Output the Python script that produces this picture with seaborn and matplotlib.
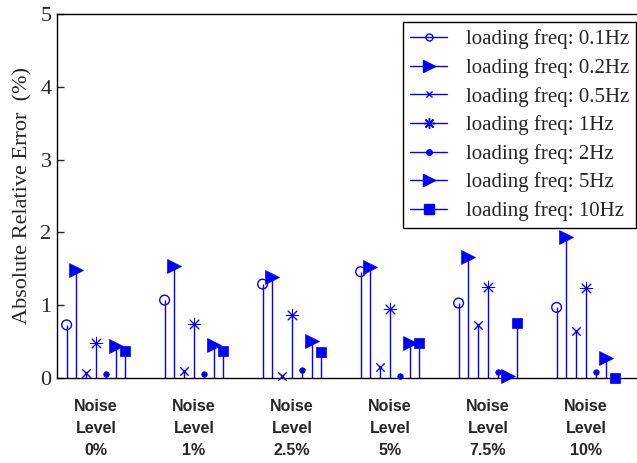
import numpy as np
import pandas as pd
import matplotlib
matplotlib.use("Agg")
import matplotlib.pyplot as plt
import seaborn as sns
from matplotlib.lines import Line2D
from matplotlib.legend_handler import HandlerLine2D

# ---------------- data ----------------
noise_labels = ["Noise\nLevel\n0%", "Noise\nLevel\n1%", "Noise\nLevel\n2.5%",
                "Noise\nLevel\n5%", "Noise\nLevel\n7.5%", "Noise\nLevel\n10%"]
series_names = ["loading freq: 0.1Hz", "loading freq: 0.2Hz", "loading freq: 0.5Hz",
                "loading freq: 1Hz", "loading freq: 2Hz", "loading freq: 5Hz",
                "loading freq: 10Hz"]
err_01 = [0.73, 1.07, 1.29, 1.46, 1.03, 0.97]
err_02 = [1.49, 1.54, 1.39, 1.53, 1.66, 1.93]
err_05 = [0.07, 0.10, 0.03, 0.15, 0.73, 0.65]
err_1 = [0.48, 0.74, 0.87, 0.95, 1.25, 1.23]
err_2 = [0.06, 0.06, 0.11, 0.03, 0.08, 0.08]
err_5 = [0.44, 0.45, 0.51, 0.48, 0.03, 0.28]
err_10 = [0.37, 0.37, 0.36, 0.48, 0.76, 0.00]
all_series = [err_01, err_02, err_05, err_1, err_2, err_5, err_10]

rows = []
for si, (name, vals) in enumerate(zip(series_names, all_series)):
    for gi, v in enumerate(vals):
        rows.append({"series": name, "sidx": si, "group": gi + 1,
                     "x": gi + 1 + (si - 3) * 0.1, "err": v})
df = pd.DataFrame(rows)

# ---------------- style ----------------
sns.set_style("ticks")
plt.rcParams["font.family"] = ["Liberation Serif", "DejaVu Serif"]
plt.rcParams["axes.linewidth"] = 1.0

BLUE = "#0000ff"
styles = [
    dict(marker="o", s=7 ** 2, fc="none", lw=1.0),
    dict(marker=">", s=10 ** 2, fc=BLUE, lw=0.5),
    dict(marker="x", s=6 ** 2, fc=BLUE, lw=1.0),
    dict(marker=(8, 2, 0), s=9 ** 2, fc=BLUE, lw=0.7),
    dict(marker="o", s=4 ** 2, fc=BLUE, lw=0.5),
    dict(marker=">", s=10 ** 2, fc=BLUE, lw=0.5),
    dict(marker="s", s=7.5 ** 2, fc=BLUE, lw=0.5),
]

fig = plt.figure(figsize=(6.37, 4.63), dpi=100)
W, H = 637.0, 463.0
ax_left, ax_right, ax_top, ax_bot = 57, 645, 14, 378
ax = fig.add_axes([ax_left / W, (H - ax_bot) / H, (ax_right - ax_left) / W, (ax_bot - ax_top) / H])

for si, name in enumerate(series_names):
    sub = df[df["series"] == name]
    st = styles[si]
    ax.vlines(sub["x"], 0, sub["err"], color=BLUE, lw=1.0, zorder=2)
    sns.scatterplot(data=sub, x="x", y="err", marker=st["marker"], s=st["s"],
                    facecolor=st["fc"], edgecolor=BLUE, linewidth=st["lw"],
                    color=BLUE, ax=ax, zorder=3, legend=False, clip_on=False)

ax.set_xlim(1 - (96 - ax_left) / 98.0, 1 + (ax_right - 96) / 98.0)
ax.set_ylim(0, 5)
ax.set_yticks([0, 1, 2, 3, 4, 5])
ax.set_yticklabels(["0", "1", "2", "3", "4", "5"], fontsize=16)
ax.set_xticks(range(1, 7))
ax.set_xticklabels(noise_labels, fontsize=11.5, fontweight="bold",
                   family=["Liberation Sans", "DejaVu Sans"], linespacing=1.6)
ax.tick_params(axis="x", length=0, pad=15)
ax.tick_params(axis="y", direction="in", length=5, width=1, pad=4)
ax.set_xlabel("")
ax.set_ylabel("Absolute Relative Error  (%)", fontsize=16, labelpad=6)
for sp in ["left", "top", "bottom", "right"]:
    ax.spines[sp].set_visible(True)
    ax.spines[sp].set_color("black")
    ax.spines[sp].set_linewidth(1.0)


class EndMarkerHandler(HandlerLine2D):
    def get_xdata(self, legend, xdescent, ydescent, width, height, fontsize):
        xdata = np.array([-xdescent, -xdescent + width])
        return xdata, np.array([-xdescent + width])


leg_ms = [5, 9, 5, 8, 4, 9, 7]
handles = []
for si, name in enumerate(series_names):
    st = styles[si]
    handles.append(Line2D([0], [0], color=BLUE, lw=1.0, marker=st["marker"],
                          markersize=leg_ms[si],
                          markerfacecolor=("none" if st["fc"] == "none" else BLUE),
                          markeredgecolor=BLUE, markeredgewidth=1.0))

leg_x = (403 - ax_left) / (ax_right - ax_left)
leg_y = (ax_bot - 22) / (ax_bot - ax_top)
leg = ax.legend(handles, series_names, loc="upper left", bbox_to_anchor=(leg_x, leg_y),
                borderaxespad=0, fontsize=15, frameon=True, fancybox=False,
                edgecolor="black", handlelength=1.75, handletextpad=0.9,
                labelspacing=0.42, borderpad=0.35,
                handler_map={Line2D: EndMarkerHandler(numpoints=1)})
leg.get_frame().set_linewidth(1.0)
leg.get_frame().set_alpha(1)

fig.savefig("out.png", dpi=100)
